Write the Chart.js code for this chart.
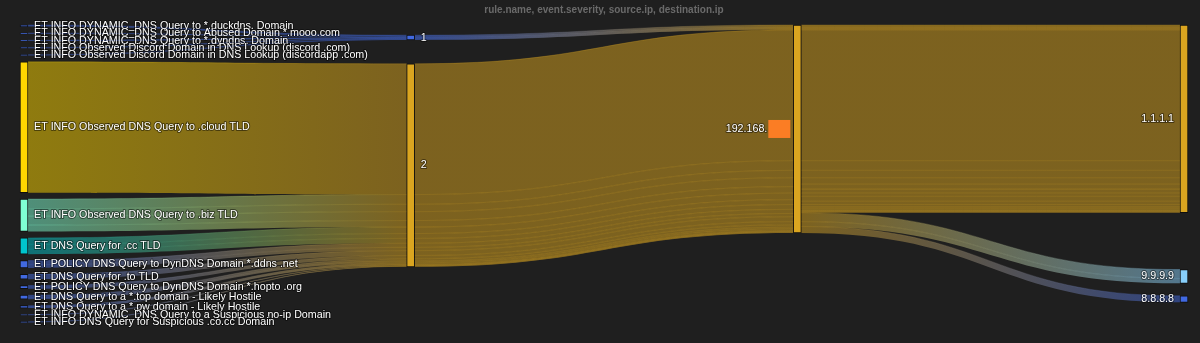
<!DOCTYPE html>
<html>
<head>
<meta charset="utf-8">
<script src="https://cdn.jsdelivr.net/npm/chart.js@4.4.1/dist/chart.umd.min.js"></script>
<style>
  html, body { margin: 0; padding: 0; background: #1f1f1f; }
  #wrap { width: 1200px; height: 343px; }
</style>
</head>
<body>
<div id="wrap"><canvas id="sankey"></canvas></div>
<script>
// columns of the sankey
const fields = ['rule.name', 'event.severity', 'source.ip', 'destination.ip'];

const ruleNames = [
    'ET INFO DYNAMIC_DNS Query to *.duckdns. Domain',
    'ET INFO DYNAMIC_DNS Query to Abused Domain *.mooo.com',
    'ET INFO DYNAMIC_DNS Query to *.dyndns. Domain',
    'ET INFO Observed Discord Domain in DNS Lookup (discord .com)',
    'ET INFO Observed Discord Domain in DNS Lookup (discordapp .com)',
    'ET INFO Observed DNS Query to .cloud TLD',
    'ET INFO Observed DNS Query to .biz TLD',
    'ET DNS Query for .cc TLD',
    'ET POLICY DNS Query to DynDNS Domain *.ddns .net',
    'ET DNS Query for .to TLD',
    'ET POLICY DNS Query to DynDNS Domain *.hopto .org',
    'ET DNS Query to a *.top domain - Likely Hostile',
    'ET DNS Query to a *.pw domain - Likely Hostile',
    'ET INFO DYNAMIC_DNS Query to a Suspicious no-ip Domain',
    'ET INFO DNS Query for Suspicious .co.cc Domain'
];
const severities = ['1', '2'];
const sourceIps = ['192.168.'];
const destinationIps = ['1.1.1.1', '9.9.9.9', '8.8.8.8'];

// one row per search bucket: [rule, severity, source, destination, count]
// (a rule can come back in more than one bucket for the same path)
const rows = [
    [0, 0, 0, 0, 2],
    [1, 0, 0, 0, 1],
    [2, 0, 0, 0, 1],
    [3, 0, 0, 0, 1],
    [4, 0, 0, 0, 1],
    [5, 1, 0, 0, 161],
    [6, 1, 0, 0, 12],
    [6, 1, 0, 0, 9],
    [6, 1, 0, 1, 11],
    [6, 1, 0, 2, 8],
    [7, 1, 0, 0, 8],
    [7, 1, 0, 0, 6],
    [7, 1, 0, 1, 6],
    [8, 1, 0, 0, 5],
    [8, 1, 0, 0, 4],
    [9, 1, 0, 0, 6],
    [10, 1, 0, 0, 4],
    [11, 1, 0, 0, 3],
    [11, 1, 0, 0, 2],
    [12, 1, 0, 0, 2],
    [12, 1, 0, 0, 1],
    [13, 1, 0, 0, 1],
    [14, 1, 0, 0, 1]
];

const BLUE = '#4169e1';
const GOLD = '#daa520';
const ruleColors = [BLUE, BLUE, BLUE, BLUE, BLUE, '#ffd700', '#7fffd4', '#00c5cd',
    BLUE, BLUE, BLUE, BLUE, BLUE, BLUE, BLUE];
const severityColors = [BLUE, GOLD];
const sourceColors = [GOLD];
const destinationColors = [GOLD, '#87cefa', BLUE];

const NODE_PADDING = 0.0215;   // fraction of the plot height
const ITERATIONS = 6;

/* ---- graph ---- */
function buildGraph() {
    const nodes = [];
    const offsets = [];
    [[ruleNames, ruleColors], [severities, severityColors], [sourceIps, sourceColors], [destinationIps, destinationColors]]
        .forEach(([names, colors], layer) => {
            offsets.push(nodes.length);
            names.forEach((name, i) => nodes.push({ name, layer, color: colors[i] }));
        });
    const links = [];
    rows.forEach(r => {
        for (let c = 0; c < 3; c++) {
            links.push({ source: offsets[c] + r[c], target: offsets[c + 1] + r[c + 1], value: r[4] });
        }
    });
    return { nodes, links };
}

/* ---- layout (d3-sankey style relaxation, node order kept, in 0..1 units) ---- */
function layoutSankey({ nodes, links }, py, iterations) {
    const sum = (arr, f) => arr.reduce((s, d) => s + f(d), 0);
    const byBreadth = (a, b) => a.y0 - b.y0;
    const byTarget = (a, b) => byBreadth(a.target, b.target) || a.index - b.index;
    const bySource = (a, b) => byBreadth(a.source, b.source) || a.index - b.index;

    nodes.forEach((n, i) => { n.index = i; n.sourceLinks = []; n.targetLinks = []; });
    links.forEach((l, i) => {
        l.index = i;
        l.source = nodes[l.source];
        l.target = nodes[l.target];
        l.source.sourceLinks.push(l);
        l.target.targetLinks.push(l);
    });
    nodes.forEach(n => {
        n.value = Math.max(sum(n.sourceLinks, l => l.value), sum(n.targetLinks, l => l.value));
    });

    const columns = [];
    nodes.forEach(n => (columns[n.layer] = columns[n.layer] || []).push(n));

    function reorderLinks(list) {
        list.forEach(n => { n.sourceLinks.sort(byTarget); n.targetLinks.sort(bySource); });
    }
    function reorderNodeLinks(n) {
        n.targetLinks.forEach(l => l.source.sourceLinks.sort(byTarget));
        n.sourceLinks.forEach(l => l.target.targetLinks.sort(bySource));
    }
    function targetTop(source, target) {
        let y = source.y0 - (source.sourceLinks.length - 1) * py / 2;
        for (const l of source.sourceLinks) { if (l.target === target) break; y += l.width + py; }
        for (const l of target.targetLinks) { if (l.source === source) break; y -= l.width; }
        return y;
    }
    function sourceTop(source, target) {
        let y = target.y0 - (target.targetLinks.length - 1) * py / 2;
        for (const l of target.targetLinks) { if (l.source === source) break; y += l.width + py; }
        for (const l of source.sourceLinks) { if (l.target === target) break; y -= l.width; }
        return y;
    }
    function pushDown(list, y, i, alpha) {
        for (; i < list.length; ++i) {
            const n = list[i];
            const dy = (y - n.y0) * alpha;
            if (dy > 1e-9) { n.y0 += dy; n.y1 += dy; }
            y = n.y1 + py;
        }
    }
    function pushUp(list, y, i, alpha) {
        for (; i >= 0; --i) {
            const n = list[i];
            const dy = (n.y1 - y) * alpha;
            if (dy > 1e-9) { n.y0 -= dy; n.y1 -= dy; }
            y = n.y0 - py;
        }
    }
    function resolveCollisions(list, alpha) {
        const i = list.length >> 1;
        const subject = list[i];
        pushUp(list, subject.y0 - py, i - 1, alpha);
        pushDown(list, subject.y1 + py, i + 1, alpha);
        pushUp(list, 1, list.length - 1, alpha);
        pushDown(list, 0, 0, alpha);
    }

    const ky = Math.min(...columns.map(c => (1 - (c.length - 1) * py) / sum(c, n => n.value)));
    columns.forEach(c => {
        let y = 0;
        c.forEach(n => {
            n.y0 = y;
            n.y1 = y + n.value * ky;
            y = n.y1 + py;
            n.sourceLinks.forEach(l => { l.width = l.value * ky; });
        });
        y = (1 - y + py) / (c.length + 1);
        c.forEach((n, i) => { n.y0 += y * (i + 1); n.y1 += y * (i + 1); });
        reorderLinks(c);
    });

    for (let it = 0; it < iterations; ++it) {
        const alpha = Math.pow(0.99, it);
        const beta = Math.max(1 - alpha, (it + 1) / iterations);
        for (let i = columns.length - 2; i >= 0; --i) {
            columns[i].forEach(src => {
                let y = 0, w = 0;
                src.sourceLinks.forEach(l => {
                    const v = l.value * (l.target.layer - src.layer);
                    y += sourceTop(src, l.target) * v;
                    w += v;
                });
                if (!(w > 0)) return;
                const dy = (y / w - src.y0) * alpha;
                src.y0 += dy; src.y1 += dy;
                reorderNodeLinks(src);
            });
            resolveCollisions(columns[i], beta);
        }
        for (let i = 1; i < columns.length; ++i) {
            columns[i].forEach(tgt => {
                let y = 0, w = 0;
                tgt.targetLinks.forEach(l => {
                    const v = l.value * (tgt.layer - l.source.layer);
                    y += targetTop(l.source, tgt) * v;
                    w += v;
                });
                if (!(w > 0)) return;
                const dy = (y / w - tgt.y0) * alpha;
                tgt.y0 += dy; tgt.y1 += dy;
                reorderNodeLinks(tgt);
            });
            resolveCollisions(columns[i], beta);
        }
    }

    reorderLinks(nodes);
    nodes.forEach(n => {
        let a = n.y0, b = n.y0;
        n.sourceLinks.forEach(l => { l.y0 = a + l.width / 2; a += l.width; });
        n.targetLinks.forEach(l => { l.y1 = b + l.width / 2; b += l.width; });
    });
}

const graph = buildGraph();
layoutSankey(graph, NODE_PADDING, ITERATIONS);

function rgba(hex, a) {
    const v = parseInt(hex.slice(1), 16);
    return `rgba(${(v >> 16) & 255},${(v >> 8) & 255},${v & 255},${a})`;
}

const linksPlugin = {
    id: 'sankeyLinks',
    beforeDatasetsDraw(chart) {
        const { ctx, scales: { x, y } } = chart;
        const bars = chart.getDatasetMeta(0).data;
        ctx.save();
        graph.links.forEach(l => {
            const sb = bars[l.source.index], tb = bars[l.target.index];
            const xs = x.getPixelForValue(l.source.layer) + sb.width / 2;
            const xt = x.getPixelForValue(l.target.layer) - tb.width / 2;
            const s0 = y.getPixelForValue(l.y0 - l.width / 2), s1 = y.getPixelForValue(l.y0 + l.width / 2);
            const t0 = y.getPixelForValue(l.y1 - l.width / 2), t1 = y.getPixelForValue(l.y1 + l.width / 2);
            const xm = (xs + xt) / 2;
            const grad = ctx.createLinearGradient(xs, 0, xt, 0);
            grad.addColorStop(0, rgba(l.source.color, 0.5));
            grad.addColorStop(1, rgba(l.target.color, 0.5));
            ctx.beginPath();
            ctx.moveTo(xs, s0);
            ctx.bezierCurveTo(xm, s0, xm, t0, xt, t0);
            ctx.lineTo(xt, t1);
            ctx.bezierCurveTo(xm, t1, xm, s1, xs, s1);
            ctx.closePath();
            ctx.fillStyle = grad;
            ctx.fill();
            // thin lighter seam on top of every ribbon
            const seam = ctx.createLinearGradient(xs, 0, xt, 0);
            seam.addColorStop(0, rgba(l.source.color, 0.3));
            seam.addColorStop(1, rgba(l.target.color, 0.3));
            ctx.beginPath();
            ctx.moveTo(xs, s0);
            ctx.bezierCurveTo(xm, s0, xm, t0, xt, t0);
            ctx.strokeStyle = seam;
            ctx.lineWidth = 0.8;
            ctx.stroke();
        });
        ctx.restore();
    },
    afterDatasetsDraw(chart) {
        const { ctx, scales: { x, y } } = chart;
        const bars = chart.getDatasetMeta(0).data;
        ctx.save();
        ctx.font = '10.7px "Liberation Sans", Arial, sans-serif';
        ctx.textBaseline = 'middle';
        ctx.lineJoin = 'round';
        graph.nodes.forEach(n => {
            const bar = bars[n.index];
            const cx = x.getPixelForValue(n.layer);
            const cy = y.getPixelForValue((n.y0 + n.y1) / 2);
            const left = n.layer < fields.length / 2;
            const tx = left ? cx + bar.width / 2 + 6 : cx - bar.width / 2 - 6;
            if (n.layer === 2) {
                // masked part of the address
                ctx.fillStyle = '#fb7d24';
                ctx.fillRect(tx - 19, cy - 9, 22, 18);
            }
            ctx.textAlign = left ? 'left' : 'right';
            const lx = n.layer === 2 ? tx - 20 : tx;
            ctx.strokeStyle = 'rgba(0,0,0,0.45)';
            ctx.lineWidth = 2;
            ctx.strokeText(n.name, lx, cy);
            ctx.fillStyle = '#ffffff';
            ctx.fillText(n.name, lx, cy);
        });
        ctx.restore();
    }
};

new Chart(document.getElementById('sankey'), {
    type: 'bar',
    data: {
        datasets: [{
            data: graph.nodes.map(n => ({ x: n.layer, y: [n.y0, n.y1] })),
            backgroundColor: graph.nodes.map(n => n.color),
            borderColor: 'rgba(0,0,0,0.55)',
            borderWidth: 1,
            borderSkipped: false,
            barThickness: 8,
            clip: false
        }]
    },
    options: {
        responsive: true,
        maintainAspectRatio: false,
        animation: false,
        layout: { padding: { left: 24, right: 16, top: 0, bottom: 20.5 } },
        scales: {
            x: { type: 'linear', min: 0, max: fields.length - 1, offset: false, display: false },
            y: { type: 'linear', min: 0, max: 1, reverse: true, display: false }
        },
        plugins: {
            legend: { display: false },
            tooltip: { enabled: false },
            title: {
                display: true,
                text: fields.join(', '),
                color: '#6a6a6a',
                font: { family: '"Liberation Sans", Arial, sans-serif', size: 10, weight: 'bold' },
                padding: { top: 4, bottom: 9 }
            }
        }
    },
    plugins: [linksPlugin]
});
</script>
</body>
</html>
